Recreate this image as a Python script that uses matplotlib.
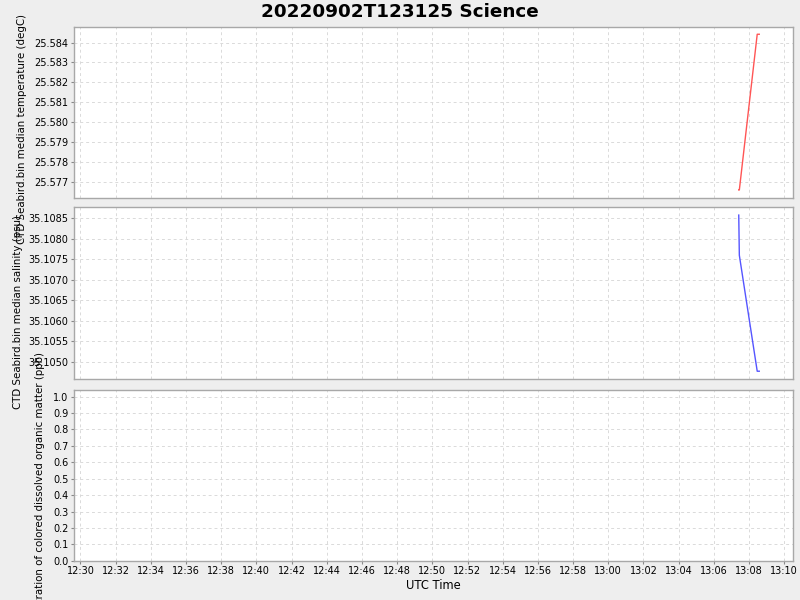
import datetime as dt
import matplotlib
matplotlib.use("Agg")
import matplotlib.pyplot as plt
import matplotlib.dates as mdates

day = dt.datetime(2022, 9, 2)
times = [day.replace(hour=13, minute=7, second=25),
         day.replace(hour=13, minute=7, second=27),
         day.replace(hour=13, minute=8, second=28),
         day.replace(hour=13, minute=8, second=35)]
temperature = [25.57658, 25.57658, 25.58442, 25.58442]
salinity = [35.10858, 35.10760, 35.10477, 35.10477]

temp_ticks = [25.577, 25.578, 25.579, 25.580, 25.581, 25.582, 25.583, 25.584]
sal_ticks = [35.1050, 35.1055, 35.1060, 35.1065, 35.1070, 35.1075, 35.1080, 35.1085]
cdom_ticks = [0.0, 0.1, 0.2, 0.3, 0.4, 0.5, 0.6, 0.7, 0.8, 0.9, 1.0]

title = "20220902T123125 Science"
ylabels = ["CTD Seabird.bin median temperature (degC)",
           "CTD Seabird.bin median salinity (psu)",
           "Concentration of colored dissolved organic matter (ppb)"]

xmin = day.replace(hour=12, minute=29, second=38)
xmax = day.replace(hour=13, minute=10, second=29)

bg = "#eeeeee"
fig = plt.figure(figsize=(8, 6), dpi=100, facecolor=bg)

W, H = 800.0, 600.0
left, right = 74, 792.7
boxes = [(26.7, 198.3), (207.3, 379.0), (390.0, 560.8)]
axes = []
for top, bot in boxes:
    ax = fig.add_axes([left / W, 1 - bot / H, (right - left) / W, (bot - top) / H])
    ax.set_facecolor("white")
    for s in ax.spines.values():
        s.set_color("#a8a8a8")
        s.set_linewidth(1.0)
    ax.grid(True, color="#dadada", linestyle=(0, (3, 3)), linewidth=0.7)
    ax.set_axisbelow(True)
    ax.tick_params(direction="out", length=2.5, width=0.8, color="#888888",
                   labelsize=7, pad=1.5)
    ax.set_xlim(xmin, xmax)
    ax.xaxis.set_major_locator(mdates.MinuteLocator(interval=2))
    ax.xaxis.set_major_formatter(mdates.DateFormatter("%H:%M"))
    axes.append(ax)

ax1, ax2, ax3 = axes

ax1.plot(times, temperature, color="#ff5555", linewidth=1.0)
ax1.set_ylim(25.57616, 25.58480)
ax1.set_yticks(temp_ticks)
ax1.set_yticklabels([f"{v:.3f}" for v in temp_ticks])

ax2.plot(times, salinity, color="#5555ff", linewidth=1.0)
ax2.set_ylim(35.10458, 35.10877)
ax2.set_yticks(sal_ticks)
ax2.set_yticklabels([f"{v:.4f}" for v in sal_ticks])

ax3.set_ylim(0.0, 1.04)
ax3.set_yticks(cdom_ticks)
ax3.set_yticklabels([f"{v:.1f}" for v in cdom_ticks])

for ax in (ax1, ax2):
    ax.tick_params(axis="x", bottom=False, labelbottom=False)

ax3.set_xlabel("UTC Time", fontsize=8.3, labelpad=2)

fig.text(400 / W, 1 - 12 / H, title, ha="center", va="center",
         fontsize=13.2, fontweight="bold")

# axis titles sit where the reference puts them, overlapping as there
fig.text(22 / W, 1 - 14 / H, ylabels[0], rotation=90, ha="center", va="top", fontsize=7.4)
fig.text(18 / W, 1 - 215 / H, ylabels[1], rotation=90, ha="center", va="top", fontsize=7.4)
fig.text(40 / W, 1 - 352 / H, ylabels[2], rotation=90, ha="center", va="top", fontsize=7.4)

fig.savefig("out.png", dpi=100, facecolor=bg)
